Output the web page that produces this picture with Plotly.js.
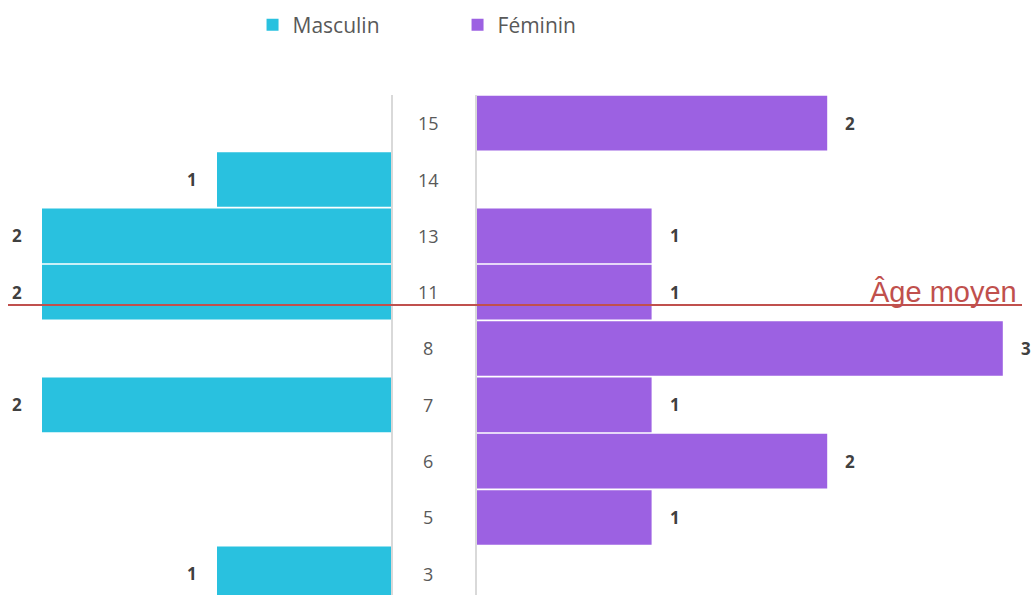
<!DOCTYPE html>
<html>
<head>
<meta charset="utf-8">
<script src="https://cdn.plot.ly/plotly-3.0.1.min.js"></script>
<style>html,body{margin:0;padding:0;background:#fff;}#chart{width:1035px;height:595px;}</style>
</head>
<body>
<div id="chart"></div>
<script>
const ages = ['3','5','6','7','8','11','13','14','15'];
const masculin = [1, null, null, 2, null, 2, 2, 1, null];
const feminin = [null, 1, 2, 1, 3, 1, 1, null, 2];
const meanAgePos = 4.77; // position of "Âge moyen" line on the category axis
const seriesNames = ['Masculin', 'Féminin'];
const colors = ['#29C1DF', '#9C61E2'];

const labelFont = {family: 'Open Sans, Liberation Sans, sans-serif', size: 17, color: '#404040', weight: 'bold'};

const traces = [
  {type: 'bar', orientation: 'h', name: seriesNames[0], y: ages, x: masculin,
   xaxis: 'x', yaxis: 'y', marker: {color: colors[0]}, hoverinfo: 'none'},
  {type: 'bar', orientation: 'h', name: seriesNames[1], y: ages, x: feminin,
   xaxis: 'x2', yaxis: 'y', marker: {color: colors[1]}, hoverinfo: 'none'}
];

const annotations = [];
ages.forEach((a, i) => {
  annotations.push({xref: 'paper', yref: 'y', x: 428/1035, y: i, text: a, showarrow: false,
    xanchor: 'center', yanchor: 'middle',
    font: {family: 'Open Sans, Liberation Sans, sans-serif', size: 18, color: '#595959'}});
  if (masculin[i] != null) {
    annotations.push({xref: 'x', yref: 'y', x: masculin[i], y: i, text: String(masculin[i]),
      showarrow: false, xanchor: 'right', yanchor: 'middle', xshift: -18, font: labelFont});
  }
  if (feminin[i] != null) {
    annotations.push({xref: 'x2', yref: 'y', x: feminin[i], y: i, text: String(feminin[i]),
      showarrow: false, xanchor: 'left', yanchor: 'middle', xshift: 16, font: labelFont});
  }
});
annotations.push({xref: 'paper', yref: 'y', x: 1019/1035, y: meanAgePos, text: 'Âge moyen',
  showarrow: false, xanchor: 'right', yanchor: 'bottom', yshift: -5,
  font: {family: 'Liberation Sans, DejaVu Sans, sans-serif', size: 29, color: '#C0504D'}});

const layout = {
  width: 1035, height: 595,
  margin: {l: 0, r: 0, t: 95, b: 0, pad: 0},
  paper_bgcolor: '#ffffff', plot_bgcolor: '#ffffff',
  barmode: 'overlay', bargap: 0.03,
  showlegend: true,
  legend: {orientation: 'h', x: 0.244, xanchor: 'left', y: 1.14, yanchor: 'middle',
    entrywidth: 160, entrywidthmode: 'pixels', itemwidth: 30,
    font: {family: 'Open Sans, Liberation Sans, sans-serif', size: 21, color: '#595959'}},
  xaxis: {domain: [0, 392/1035], range: [392/175, 0], visible: false, fixedrange: true},
  xaxis2: {domain: [476/1035, 1], range: [0, 559/175.6], visible: false, fixedrange: true},
  yaxis: {type: 'category', categoryorder: 'array', categoryarray: ages,
    range: [-0.376, 8.5], visible: false, fixedrange: true},
  shapes: [
    {type: 'line', xref: 'paper', yref: 'paper', x0: 392/1035, x1: 392/1035, y0: 0, y1: 1,
      line: {color: '#D9D9D9', width: 2}},
    {type: 'line', xref: 'paper', yref: 'paper', x0: 476/1035, x1: 476/1035, y0: 0, y1: 1,
      line: {color: '#D9D9D9', width: 2}},
    {type: 'line', xref: 'paper', yref: 'y', x0: 8/1035, x1: 1022/1035, y0: meanAgePos, y1: meanAgePos,
      line: {color: '#C0504D', width: 2}}
  ],
  annotations: annotations
};

Plotly.newPlot('chart', traces, layout, {displayModeBar: false, staticPlot: true});
</script>
</body>
</html>
